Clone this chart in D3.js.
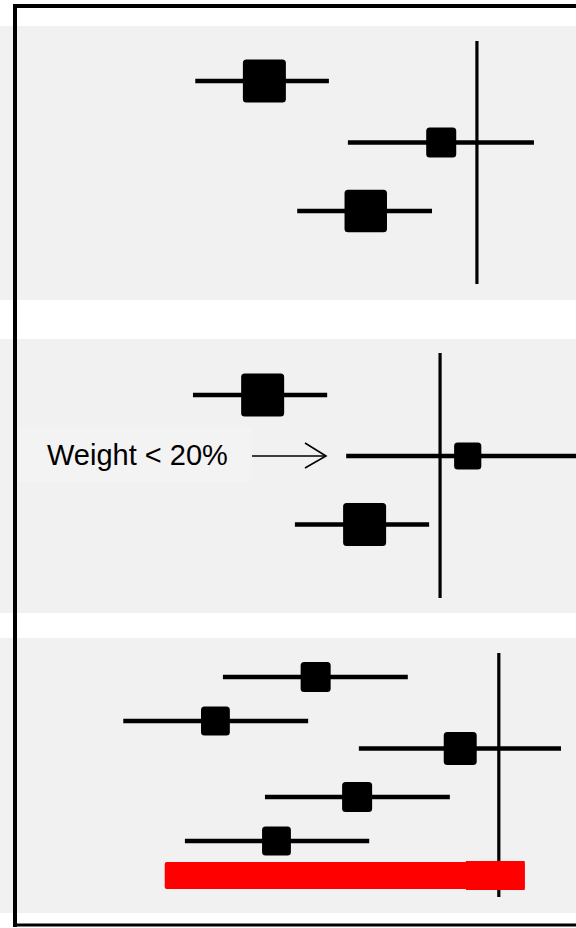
<!DOCTYPE html>
<html>
<head>
<meta charset="utf-8">
<script src="https://cdn.jsdelivr.net/npm/d3@7"></script>
<style>
  html, body { margin: 0; padding: 0; background: #ffffff; }
  svg { display: block; }
</style>
</head>
<body>
<svg id="chart" width="576" height="928"></svg>
<script>
// ---------------- DATA ----------------
// Effect estimates and confidence limits (arbitrary effect units, 0..100)
const panelNames = ["A", "B", "C"];
const nullEffect = [82.8, 76.4, 86.6];

const estA = [45.9, 76.6, 63.5];
const lowA = [33.9, 60.4, 51.6];
const highA = [57.1, 92.7, 75.0];
const weightA = [40, 19.5, 39];

const estB = [45.6, 81.2, 63.3];
const lowB = [33.5, 60.1, 51.2];
const highB = [56.8, 100, 74.5];
const weightB = [40, 16, 40];

const estC = [54.8, 37.4, 79.9, 62.0, 48.0];
const lowC = [38.7, 21.4, 62.3, 46.0, 32.1];
const highC = [70.8, 53.5, 97.4, 78.1, 64.1];
const weightC = [19.5, 18, 23.5, 19.5, 18];

// Pooled interval (red bar) in panel C, with its upper segment
const pooledRange = [28.6, 91.1];
const pooledUpper = [80.9, 91.1];

const annotationText = "Weight < 20%";

// ---------------- LAYOUT ----------------
const W = 576, H = 928;
const svg = d3.select("#chart");

const x = d3.scaleLinear().domain([0, 100]).range([0, W]);
const size = d3.scaleSqrt().domain([0, 40]).range([0, 43]);

const panels = [
  { est: estA, low: lowA, high: highA, w: weightA, top: 26, bottom: 300,
    rowY: [81, 142.5, 211], vline: [41, 284] },
  { est: estB, low: lowB, high: highB, w: weightB, top: 339, bottom: 613,
    rowY: [395, 456, 524.5], vline: [353, 598] },
  { est: estC, low: lowC, high: highC, w: weightC, top: 638, bottom: 913,
    rowY: [677, 721, 748.5, 797, 841], vline: [653, 897] }
];

panels.forEach((p, i) => {
  const g = svg.append("g").attr("class", "panel panel-" + panelNames[i]);
  g.append("rect")
    .attr("x", 0).attr("y", p.top)
    .attr("width", W).attr("height", p.bottom - p.top)
    .attr("fill", "#f1f1f1");

  if (i === 1) {
    g.append("rect")
      .attr("x", 17).attr("y", 427)
      .attr("width", 235).attr("height", 55)
      .attr("fill", "#f3f3f3");
  }

  const rows = p.est.map((e, k) => ({ est: e, low: p.low[k], high: p.high[k], w: p.w[k], y: p.rowY[k] }));

  g.selectAll("line.ci").data(rows).join("line")
    .attr("class", "ci")
    .attr("x1", d => x(d.low)).attr("x2", d => x(d.high))
    .attr("y1", d => d.y).attr("y2", d => d.y)
    .attr("stroke", "#000").attr("stroke-width", 4.5);

  g.append("line")
    .attr("x1", x(nullEffect[i])).attr("x2", x(nullEffect[i]))
    .attr("y1", p.vline[0]).attr("y2", p.vline[1])
    .attr("stroke", "#000").attr("stroke-width", 3.2);

  if (i === 2) {
    g.append("rect")
      .attr("x", x(pooledRange[0])).attr("y", 862)
      .attr("width", x(pooledRange[1]) - x(pooledRange[0])).attr("height", 27)
      .attr("rx", 2)
      .attr("fill", "#ff0000");
    g.append("rect")
      .attr("x", x(pooledUpper[0])).attr("y", 861)
      .attr("width", x(pooledUpper[1]) - x(pooledUpper[0])).attr("height", 29)
      .attr("fill", "#ff0000");
  }

  g.selectAll("rect.sq").data(rows).join("rect")
    .attr("class", "sq")
    .attr("x", d => x(d.est) - size(d.w) / 2)
    .attr("y", d => d.y - size(d.w) / 2)
    .attr("width", d => size(d.w)).attr("height", d => size(d.w))
    .attr("rx", 3.5)
    .attr("fill", "#000");
});

// annotation
svg.append("text")
  .attr("x", 47).attr("y", 465)
  .attr("font-family", "'Liberation Sans', Arial, sans-serif")
  .attr("font-size", 29)
  .attr("fill", "#000")
  .text(annotationText);

svg.append("line")
  .attr("x1", 252).attr("x2", 326).attr("y1", 456).attr("y2", 456)
  .attr("stroke", "#000").attr("stroke-width", 1.6);
svg.append("path")
  .attr("d", "M305,443 L326,456 L305,468")
  .attr("fill", "none").attr("stroke", "#000").attr("stroke-width", 1.6);

// frame
svg.append("line").attr("x1", 13).attr("x2", 600).attr("y1", 6).attr("y2", 6)
  .attr("stroke", "#000").attr("stroke-width", 4);
svg.append("line").attr("x1", 15).attr("x2", 15).attr("y1", 4).attr("y2", 927)
  .attr("stroke", "#000").attr("stroke-width", 4);
svg.append("line").attr("x1", 13).attr("x2", 600).attr("y1", 925).attr("y2", 925)
  .attr("stroke", "#000").attr("stroke-width", 3);
</script>
</body>
</html>
